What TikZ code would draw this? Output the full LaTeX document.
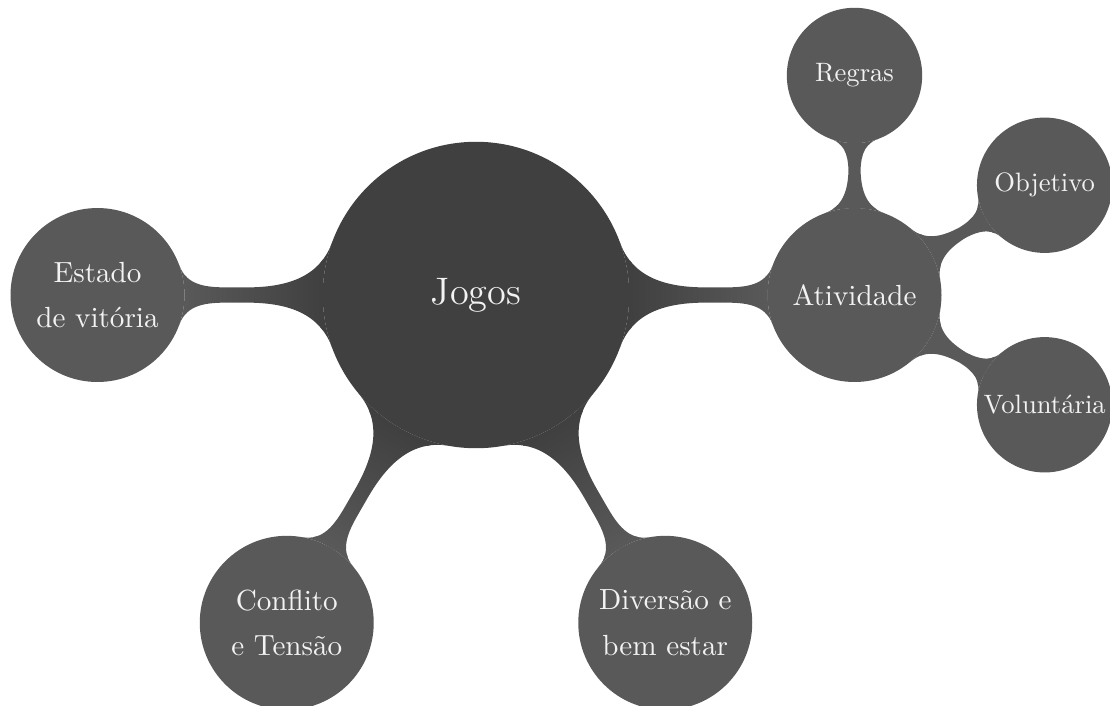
\documentclass[tikz,border=0pt]{standalone}
\usetikzlibrary{mindmap,calc,backgrounds}
\definecolor{rootcol}{gray}{0.25}
\definecolor{subcol}{gray}{0.35}
\definecolor{textcol}{gray}{0.95}
\begin{document}
\begin{tikzpicture}[
  bubble/.style={circle, fill=#1, draw=#1, line width=0.8pt, text=textcol,
    align=center, inner sep=0pt},
  rootbubble/.style={bubble=rootcol, minimum size=4.02cm, font=\Large},
  lonebubble/.style={bubble=subcol, minimum size=2.27cm,
    font=\fontsize{10.95}{17}\selectfont},
  ltwobubble/.style={bubble=subcol, minimum size=1.76cm,
    font=\fontsize{10}{17}\selectfont},
  rootlink/.style={circle connection bar switch color=from (rootcol) to (subcol)},
  sublink/.style={circle connection bar switch color=from (subcol) to (subcol)}]
\useasboundingbox (-6.288,-5.429) rectangle (8.375,3.897);
\node[rootbubble] (root) at (0,0) {Jogos};
\node[lonebubble] (ativ) at (0:5) {Atividade};
\node[lonebubble] (estado) at (180:5) {Estado\\de vitória};
\node[lonebubble] (conflito) at (-120:5) {Conflito\\e Tensão};
\node[lonebubble] (diversao) at (-60:5) {Diversão e\\bem estar};
\node[ltwobubble] (regras) at ($(ativ)+(90:2.9)$) {Regras};
\node[ltwobubble] (objetivo) at ($(ativ)+(30:2.9)$) {Objetivo};
\node[ltwobubble] (voluntaria) at ($(ativ)+(-30:2.9)$) {Voluntária};
\begin{pgfonlayer}{background}
\begin{scope}[mindmap]
\path (root) to[rootlink] (ativ);
\path (root) to[rootlink] (estado);
\path (root) to[rootlink] (conflito);
\path (root) to[rootlink] (diversao);
\path (ativ) to[sublink] (regras);
\path (ativ) to[sublink] (objetivo);
\path (ativ) to[sublink] (voluntaria);
\end{scope}
\end{pgfonlayer}
\end{tikzpicture}
\end{document}
